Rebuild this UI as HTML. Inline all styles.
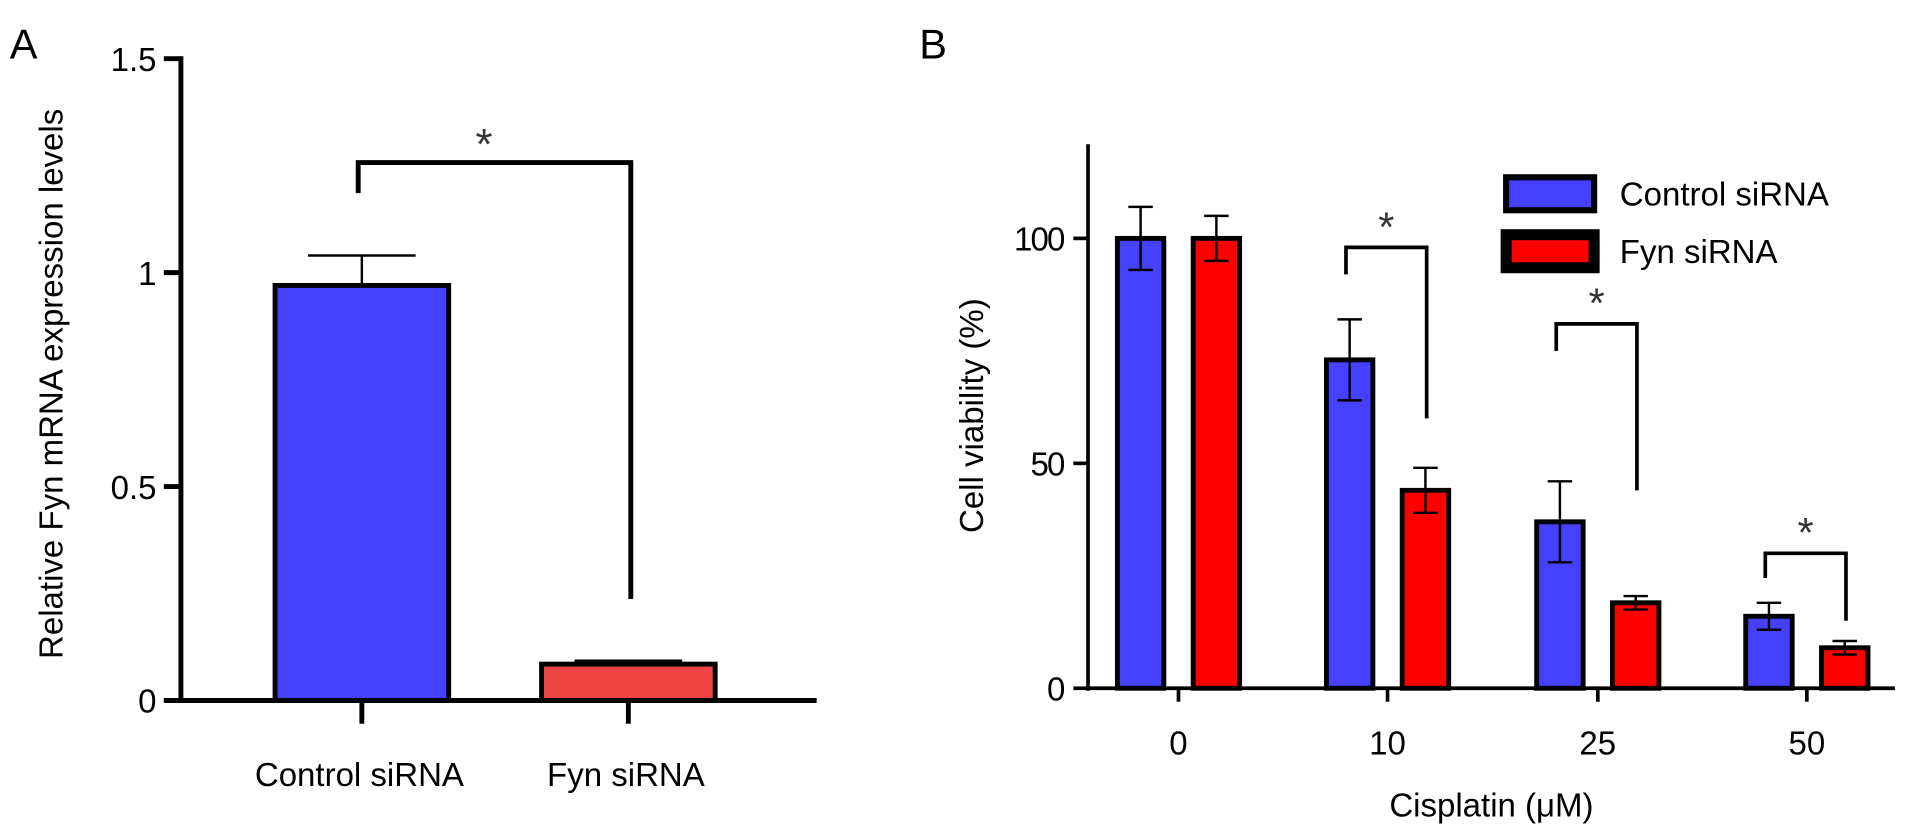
<!DOCTYPE html>
<html><head><meta charset="utf-8"><style>
body{margin:0;background:#fff}
svg{display:block;font-family:"Liberation Sans",sans-serif}
</style></head><body>
<svg id="fig" width="1913" height="826" viewBox="0 0 1913 826">
<g transform="scale(1.2225)">
<g id="pa"></g>
<g id="pb"></g>
</g>
</svg>
<script>
const aCategories=["Control siRNA","Fyn siRNA"];
const aValues=[0.97,0.085];
const aErrors=[0.07,0.008];
const aTicks=[0,0.5,1,1.5];
const aTickLabels=["0","0.5","1","1.5"];
const bCategories=["0","10","25","50"];
const bControl=[100,73,37,16];
const bControlErr=[7,9,9,3];
const bFyn=[100,44,19,9];
const bFynErr=[5,5,1.5,1.5];
const bTicks=[0,50,100];
const bBracketTop=[0,98,81,30];
const bBracketLeft=[0,92,75,24.5];
const bBracketRight=[0,60,44,15];
const NS="http://www.w3.org/2000/svg";
const FS=27;
function mk(p,t,a,txt){const e=document.createElementNS(NS,t);for(const k in a)e.setAttribute(k,a[k]);if(txt!==undefined)e.textContent=txt;p.appendChild(e);return e;}
// Panel A
const pa=document.getElementById('pa');
const ya=v=>573-v*350;
const axA=148;
mk(pa,'line',{x1:axA,y1:ya(1.5)-2,x2:axA,y2:575,stroke:'#000','stroke-width':4,});
mk(pa,'line',{x1:axA,y1:573,x2:668,y2:573,stroke:'#000','stroke-width':4,});
aTicks.forEach((t,i)=>{
 mk(pa,'line',{x1:axA-14,y1:ya(t),x2:axA,y2:ya(t),stroke:'#000','stroke-width':4,});
 mk(pa,'text',{x:axA-20,y:ya(t)+10,'text-anchor':'end','font-size':FS,},aTickLabels[i]);
});
const aCx=[296,514],aW=142,aCol=['#4640ff','#ee4444'];
aCategories.forEach((c,i)=>{
 const x=aCx[i]-aW/2;
 mk(pa,'rect',{x:x,y:ya(aValues[i]),width:aW,height:573-ya(aValues[i]),fill:aCol[i],stroke:'#000','stroke-width':4,});
 const et=ya(aValues[i]+aErrors[i]);
 mk(pa,'line',{x1:aCx[i],y1:ya(aValues[i]),x2:aCx[i],y2:et,stroke:'#000','stroke-width':2,});
 mk(pa,'line',{x1:aCx[i]-44,y1:et,x2:aCx[i]+44,y2:et,stroke:'#000','stroke-width':2,});
 mk(pa,'line',{x1:aCx[i],y1:573,x2:aCx[i],y2:592,stroke:'#000','stroke-width':4,});
 mk(pa,'text',{x:aCx[i]-2,y:643,'text-anchor':'middle','font-size':FS,},c);
});
mk(pa,'path',{d:'M293 158 V133 H516 V490',fill:'none',stroke:'#000','stroke-width':4,});
mk(pa,'text',{x:396,y:130,'text-anchor':'middle','font-size':36,fill:'#333',},'*');
mk(pa,'text',{x:0,y:0,transform:'translate(51,314) rotate(-90)','text-anchor':'middle','font-size':FS,},'Relative Fyn mRNA expression levels');
mk(pa,'text',{x:8,y:48,'font-size':34,},'A');
// Panel B
const pb=document.getElementById('pb');
const yb=v=>563-v*3.68;
const axB=890;
mk(pb,'line',{x1:axB,y1:118,x2:axB,y2:565,stroke:'#000','stroke-width':3,});
mk(pb,'line',{x1:axB,y1:563,x2:1550,y2:563,stroke:'#000','stroke-width':3,});
bTicks.forEach(t=>{
 mk(pb,'line',{x1:axB-12,y1:yb(t),x2:axB,y2:yb(t),stroke:'#000','stroke-width':3,});
 mk(pb,'text',{x:axB-20,y:yb(t)+10,'text-anchor':'end','font-size':FS,'letter-spacing':-1.5,},String(t));
});
const bGc=[964,1135,1307,1478],bW=38,bOff=31;
function bbar(cx,v,e,col,name){
 mk(pb,'rect',{x:cx-bW/2,y:yb(v),width:bW,height:563-yb(v),fill:col,stroke:'#000','stroke-width':4,});
 const et=yb(v+e),eb=yb(v-e);
 mk(pb,'line',{x1:cx,y1:et,x2:cx,y2:eb,stroke:'#000','stroke-width':2,});
 mk(pb,'line',{x1:cx-10,y1:et,x2:cx+10,y2:et,stroke:'#000','stroke-width':2,});
 mk(pb,'line',{x1:cx-10,y1:eb,x2:cx+10,y2:eb,stroke:'#000','stroke-width':2,});
}
bCategories.forEach((c,i)=>{
 bbar(bGc[i]-bOff,bControl[i],bControlErr[i],'#4640ff','bar-control-'+c);
 bbar(bGc[i]+bOff,bFyn[i],bFynErr[i],'#ff0000','bar-fyn-'+c);
 mk(pb,'line',{x1:bGc[i],y1:563,x2:bGc[i],y2:574,stroke:'#000','stroke-width':3,});
 mk(pb,'text',{x:bGc[i],y:617,'text-anchor':'middle','font-size':FS,},c);
 if(i>0){
  const l=bGc[i]-bOff-3,r=l+66;
  const top=yb(bBracketTop[i]);
  mk(pb,'path',{d:`M${l} ${yb(bBracketLeft[i])} V${top} H${r} V${yb(bBracketRight[i])}`,fill:'none',stroke:'#000','stroke-width':3,});
  mk(pb,'text',{x:(l+r)/2,y:top-5,'text-anchor':'middle','font-size':34,fill:'#333',},'*');
 }
});
mk(pb,'text',{x:1220,y:668,'text-anchor':'middle','font-size':FS,},'Cisplatin (\u03bcM)');
mk(pb,'text',{x:0,y:0,transform:'translate(804,340) rotate(-90)','text-anchor':'middle','font-size':FS,},'Cell viability (%)');
mk(pb,'rect',{x:1232,y:145,width:72,height:27,fill:'#4640ff',stroke:'#000','stroke-width':5,});
mk(pb,'text',{x:1325,y:168,'font-size':FS,},'Control siRNA');
mk(pb,'rect',{x:1232,y:192,width:72,height:27,fill:'#ff0000',stroke:'#000','stroke-width':9,});
mk(pb,'text',{x:1325,y:215,'font-size':FS,},'Fyn siRNA');
mk(pb,'text',{x:752,y:48,'font-size':34,},'B');
</script>
</body></html>
